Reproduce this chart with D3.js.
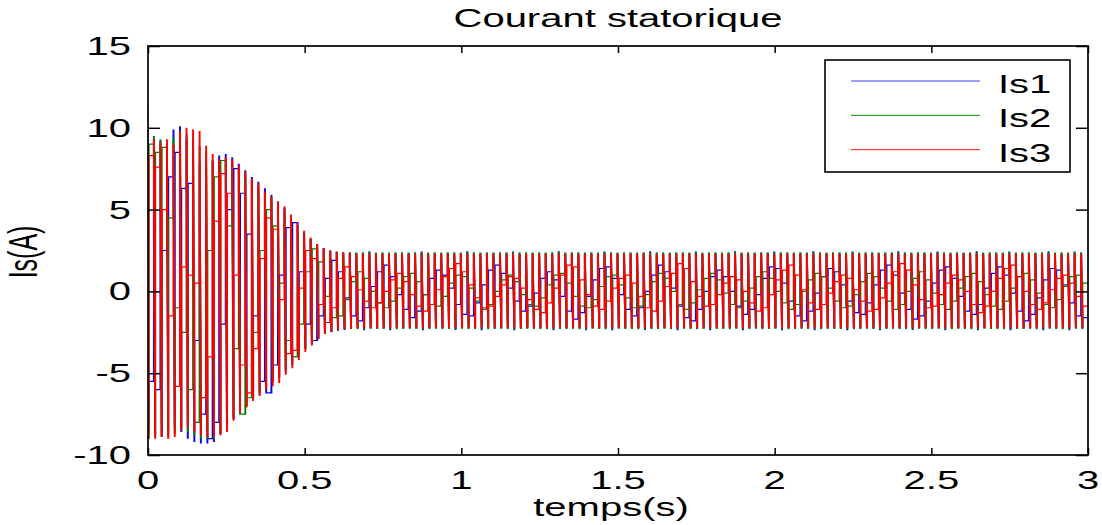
<!DOCTYPE html>
<html lang="fr">
<head>
<meta charset="utf-8">
<title>Courant statorique</title>
<style>
  body { margin: 0; background: #fff; }
  svg text { font-family: "Liberation Sans", Arial, sans-serif; fill: #000; }
  .trace { fill: none; stroke-width: 1.2px; stroke-linejoin: miter; }
  .tick line { stroke: #000; stroke-width: 1.5px; }
</style>
<script src="https://cdn.jsdelivr.net/npm/d3@7"></script>
</head>
<body>
<svg width="1102" height="525"></svg>
<script>
// time between two successive peaks of the same phase (s)
var cycle = 0.02084;

var xTicks = [0, 0.5, 1, 1.5, 2, 2.5, 3];
var xTickLabels = ["0", "0.5", "1", "1.5", "2", "2.5", "3"];
var yTicks = [-10, -5, 0, 5, 10, 15];
var yTickLabels = ["-10", "-5", "0", "5", "10", "15"];

// Is1 (blue): positive peak, negative peak and the level between peaks, one value per cycle
var is1Start = 0;
var is1Hi = [11.2, 9.3, 9.2, 9.0, 9.9, 10.1, 9.3, 8.5, 7.8, 7.6,
  8.0, 8.3, 8.4, 8.2, 7.8, 7.4, 7.0, 6.7, 6.3, 5.9,
  5.5, 5.1, 4.6, 4.1, 3.6, 3.2, 2.8, 2.6, 2.45, 2.42,
  2.4, 2.38, 2.34, 2.33, 2.45, 2.33, 2.32, 2.33, 2.34, 2.33,
  2.33, 2.32, 2.44, 2.33, 2.33, 2.32, 2.34, 2.33, 2.33, 2.45,
  2.33, 2.32, 2.33, 2.34, 2.33, 2.33, 2.44, 2.32, 2.33, 2.33,
  2.34, 2.33, 2.32, 2.45, 2.33, 2.33, 2.32, 2.34, 2.33, 2.33,
  2.44, 2.33, 2.32, 2.33, 2.34, 2.33, 2.33, 2.45, 2.32, 2.33,
  2.33, 2.34, 2.33, 2.33, 2.44, 2.32, 2.33, 2.33, 2.34, 2.33,
  2.45, 2.33, 2.32, 2.33, 2.34, 2.33, 2.44, 2.33, 2.32, 2.33,
  2.33, 2.34, 2.45, 2.33, 2.32, 2.33, 2.33, 2.34, 2.44, 2.33,
  2.32, 2.33, 2.33, 2.34, 2.33, 2.45, 2.32, 2.33, 2.33, 2.34,
  2.33, 2.44, 2.33, 2.32, 2.33, 2.34, 2.33, 2.45, 2.33, 2.32,
  2.33, 2.34, 2.44, 2.33, 2.32, 2.33, 2.33, 2.34, 2.45, 2.33,
  2.32, 2.33, 2.44, 2.33];
var is1Lo = [-8.5, -8.8, -8.9, -8.6, -8.3, -8.6, -9.0, -9.2, -9.3, -9.3,
  -9.2, -8.7, -8.2, -7.8, -7.3, -7.0, -6.6, -6.3, -5.9, -5.6,
  -5.3, -4.9, -4.5, -4.0, -3.5, -3.2, -2.9, -2.6, -2.5, -2.4,
  -2.36, -2.3, -2.27, -2.38, -2.26, -2.27, -2.26, -2.37, -2.26, -2.27,
  -2.26, -2.26, -2.38, -2.27, -2.26, -2.26, -2.27, -2.36, -2.26, -2.27,
  -2.26, -2.38, -2.26, -2.27, -2.26, -2.26, -2.37, -2.27, -2.26, -2.26,
  -2.27, -2.26, -2.38, -2.26, -2.27, -2.26, -2.26, -2.37, -2.26, -2.27,
  -2.26, -2.38, -2.26, -2.26, -2.27, -2.26, -2.36, -2.27, -2.26, -2.26,
  -2.27, -2.38, -2.26, -2.26, -2.27, -2.26, -2.37, -2.26, -2.27, -2.26,
  -2.26, -2.38, -2.27, -2.26, -2.26, -2.27, -2.26, -2.37, -2.26, -2.26,
  -2.27, -2.26, -2.38, -2.26, -2.27, -2.26, -2.26, -2.37, -2.27, -2.26,
  -2.26, -2.27, -2.38, -2.26, -2.26, -2.27, -2.26, -2.36, -2.26, -2.27,
  -2.26, -2.26, -2.38, -2.27, -2.26, -2.26, -2.27, -2.37, -2.26, -2.26,
  -2.27, -2.26, -2.38, -2.26, -2.27, -2.26, -2.26, -2.37, -2.26, -2.27,
  -2.26, -2.38, -2.26, -2.27];
var is1Mid = [-5.5, -6.0, 2.5, 7.0, 8.5, 6.3, 6.6, -3.0, -7.5, -9.0,
  -8.0, -2.0, 5.0, 7.5, 6.0, 3.5, -1.5, -5.5, -6.2, -4.5,
  1.0, 3.9, 4.2, 1.2, -2.0, -3.0, -1.5, 0.8, 1.9, 1.2,
  -0.4, -1.5, -1.8, -1.0, 0.3, 1.2, 1.6, 0.9, -0.2, -1.1,
  -1.6, -1.2, -0.2, 0.8, 1.3, 1.0, 0.2, -0.8, -1.4, -1.5,
  -0.7, 0.4, 1.3, 1.6, 1.1, 0.2, -0.6, -1.2, -0.9, -0.1,
  0.8, 1.2, 0.7, -0.3, -1.2, -1.7, -1.3, -0.3, 0.7, 1.4,
  1.5, 0.8, -0.2, -1.1, -1.5, -1.0, 0.0, 1.0, 1.6, 1.2,
  0.2, -0.9, -1.6, -1.8, -1.1, 0.0, 0.9, 1.3, 0.9, 0.0,
  -0.9, -1.4, -1.1, -0.2, 0.8, 1.5, 1.4, 0.5, -0.6, -1.5,
  -1.8, -1.2, -0.1, 0.9, 1.4, 1.2, 0.4, -0.6, -1.3, -1.4,
  -0.7, 0.4, 1.3, 1.6, 1.0, -0.1, -1.1, -1.7, -1.5, -0.6,
  0.5, 1.3, 1.5, 0.8, -0.3, -1.2, -1.4, -0.8, 0.2, 1.1,
  1.5, 1.0, -0.1, -1.2, -1.8, -1.4, -0.4, 0.7, 1.4, 1.3,
  0.4, -0.7, -1.5, -1.6];

// Is2 (green)
var is2Start = 0;
var is2Hi = [10.0, 9.5, 9.3, 9.1, 9.4, 9.7, 9.6, 9.3, 8.9, 8.5,
  8.0, 7.8, 8.0, 7.9, 7.5, 7.2, 6.8, 6.4, 6.0, 5.7,
  5.3, 4.9, 4.5, 4.0, 3.6, 3.2, 2.9, 2.65, 2.52, 2.44,
  2.4, 2.39, 2.38, 2.39, 2.4, 2.38, 2.39, 2.38, 2.4, 2.39,
  2.38, 2.39, 2.4, 2.38, 2.39, 2.38, 2.4, 2.39, 2.38, 2.39,
  2.4, 2.38, 2.39, 2.38, 2.4, 2.39, 2.38, 2.39, 2.4, 2.38,
  2.39, 2.38, 2.4, 2.39, 2.38, 2.39, 2.4, 2.38, 2.39, 2.38,
  2.4, 2.39, 2.38, 2.39, 2.4, 2.38, 2.39, 2.38, 2.4, 2.39,
  2.38, 2.39, 2.4, 2.38, 2.39, 2.38, 2.4, 2.39, 2.38, 2.39,
  2.4, 2.38, 2.39, 2.38, 2.4, 2.39, 2.38, 2.39, 2.4, 2.38,
  2.39, 2.38, 2.4, 2.39, 2.38, 2.39, 2.4, 2.38, 2.39, 2.38,
  2.4, 2.39, 2.38, 2.39, 2.4, 2.38, 2.39, 2.38, 2.4, 2.39,
  2.38, 2.39, 2.4, 2.38, 2.39, 2.38, 2.4, 2.39, 2.38, 2.39,
  2.4, 2.38, 2.39, 2.38, 2.4, 2.39, 2.38, 2.39, 2.4, 2.38,
  2.39, 2.38, 2.4, 2.39];
var is2Lo = [-9.0, -8.9, -8.8, -8.9, -8.7, -8.5, -8.6, -8.8, -9.0, -9.0,
  -9.0, -8.7, -8.2, -7.7, -7.3, -7.0, -6.6, -6.2, -5.9, -5.6,
  -5.2, -4.8, -4.3, -3.9, -3.5, -3.1, -2.8, -2.55, -2.4, -2.34,
  -2.3, -2.29, -2.3, -2.31, -2.29, -2.3, -2.3, -2.29, -2.31, -2.3,
  -2.29, -2.3, -2.31, -2.3, -2.29, -2.3, -2.3, -2.31, -2.29, -2.3,
  -2.3, -2.29, -2.31, -2.3, -2.29, -2.3, -2.31, -2.3, -2.29, -2.3,
  -2.3, -2.31, -2.29, -2.3, -2.3, -2.29, -2.31, -2.3, -2.29, -2.3,
  -2.31, -2.3, -2.29, -2.3, -2.3, -2.31, -2.29, -2.3, -2.3, -2.29,
  -2.31, -2.3, -2.29, -2.3, -2.31, -2.3, -2.29, -2.3, -2.3, -2.31,
  -2.29, -2.3, -2.3, -2.29, -2.31, -2.3, -2.29, -2.3, -2.31, -2.3,
  -2.29, -2.3, -2.3, -2.31, -2.29, -2.3, -2.3, -2.29, -2.31, -2.3,
  -2.29, -2.3, -2.31, -2.3, -2.29, -2.3, -2.3, -2.31, -2.29, -2.3,
  -2.3, -2.29, -2.31, -2.3, -2.29, -2.3, -2.31, -2.3, -2.29, -2.3,
  -2.3, -2.31, -2.29, -2.3, -2.3, -2.29, -2.31, -2.3, -2.29, -2.3,
  -2.31, -2.3, -2.29, -2.3];
var is2Mid = [9.0, 8.5, 8.8, 4.5, -1.0, -2.5, -6.0, -8.0, -6.5, 2.5,
  7.0, 8.0, 4.0, -3.5, -7.5, -6.5, -2.5, 2.5, 5.0, 4.0,
  0.5, -3.0, -4.0, -2.0, 1.2, 2.6, 1.8, -0.3, -1.6, -1.5,
  -0.5, 0.6, 1.2, 0.8, 0.0, -0.7, -1.0, -0.6, 0.2, 0.9,
  1.1, 0.6, -0.2, -0.8, -0.9, -0.3, 0.5, 1.0, 0.9, 0.2,
  -0.6, -1.1, -0.8, 0.0, 0.7, 1.0, 0.6, -0.2, -0.8, -0.9,
  -0.4, 0.4, 1.0, 1.1, 0.5, -0.3, -0.9, -1.0, -0.5, 0.3,
  0.9, 1.0, 0.4, -0.4, -1.0, -0.9, -0.2, 0.6, 1.1, 0.8,
  0.0, -0.8, -1.1, -0.7, 0.1, 0.8, 1.1, 0.7, -0.1, -0.8,
  -1.0, -0.6, 0.2, 0.9, 1.2, 0.8, 0.0, -0.7, -1.1, -0.8,
  0.0, 0.7, 1.1, 0.9, 0.2, -0.6, -1.0, -0.9, -0.2, 0.6,
  1.1, 0.9, 0.2, -0.6, -1.1, -0.8, 0.0, 0.8, 1.2, 0.7,
  -0.1, -0.8, -1.1, -0.6, 0.2, 0.9, 1.1, 0.6, -0.2, -0.9,
  -1.1, -0.6, 0.2, 0.9, 1.1, 0.7, -0.1, -0.8, -1.0, -0.5,
  0.3, 0.9, 1.0, 0.5];

// Is3 (red)
var is3Start = -4.3;
var is3Hi = [10.0, 9.3, 9.1, 9.3, 9.0, 9.8, 10.0, 9.9, 9.8, 8.9,
  8.4, 8.1, 8.2, 8.1, 7.7, 7.3, 6.9, 6.6, 6.1, 5.8,
  5.5, 5.2, 4.7, 4.2, 3.7, 3.3, 2.9, 2.65, 2.5, 2.4,
  2.35, 2.33, 2.31, 2.3, 2.3, 2.31, 2.3, 2.29, 2.3, 2.3,
  2.3, 2.3, 2.31, 2.3, 2.3, 2.29, 2.3, 2.3, 2.31, 2.3,
  2.3, 2.29, 2.3, 2.31, 2.3, 2.3, 2.3, 2.29, 2.3, 2.31,
  2.3, 2.3, 2.29, 2.3, 2.3, 2.31, 2.3, 2.3, 2.29, 2.3,
  2.31, 2.3, 2.3, 2.3, 2.29, 2.3, 2.31, 2.3, 2.3, 2.29,
  2.3, 2.3, 2.31, 2.3, 2.29, 2.3, 2.3, 2.31, 2.3, 2.3,
  2.29, 2.3, 2.3, 2.31, 2.3, 2.3, 2.29, 2.3, 2.31, 2.3,
  2.3, 2.29, 2.3, 2.3, 2.31, 2.3, 2.3, 2.29, 2.3, 2.31,
  2.3, 2.3, 2.29, 2.3, 2.3, 2.31, 2.3, 2.29, 2.3, 2.3,
  2.31, 2.3, 2.3, 2.29, 2.3, 2.3, 2.31, 2.3, 2.3, 2.29,
  2.3, 2.31, 2.3, 2.3, 2.29, 2.3, 2.3, 2.31, 2.3, 2.3,
  2.29, 2.3, 2.31, 2.3];
var is3Lo = [-9.0, -9.0, -8.9, -9.0, -8.9, -8.5, -8.3, -8.6, -8.8, -8.9,
  -8.9, -8.8, -8.6, -7.9, -7.4, -7.1, -6.7, -6.4, -6.0, -5.8,
  -5.6, -5.1, -4.7, -4.2, -3.7, -3.3, -2.9, -2.6, -2.45, -2.35,
  -2.3, -2.27, -2.25, -2.23, -2.22, -2.23, -2.22, -2.22, -2.23, -2.22,
  -2.22, -2.23, -2.22, -2.22, -2.22, -2.23, -2.22, -2.22, -2.23, -2.22,
  -2.23, -2.22, -2.22, -2.22, -2.23, -2.22, -2.22, -2.23, -2.22, -2.22,
  -2.22, -2.23, -2.22, -2.22, -2.23, -2.22, -2.22, -2.22, -2.23, -2.22,
  -2.22, -2.23, -2.22, -2.22, -2.22, -2.23, -2.22, -2.22, -2.23, -2.22,
  -2.23, -2.22, -2.22, -2.22, -2.23, -2.22, -2.22, -2.23, -2.22, -2.22,
  -2.22, -2.23, -2.22, -2.22, -2.23, -2.22, -2.22, -2.22, -2.23, -2.22,
  -2.22, -2.23, -2.22, -2.22, -2.22, -2.23, -2.22, -2.22, -2.23, -2.22,
  -2.23, -2.22, -2.22, -2.22, -2.23, -2.22, -2.22, -2.23, -2.22, -2.22,
  -2.22, -2.23, -2.22, -2.22, -2.23, -2.22, -2.22, -2.22, -2.23, -2.22,
  -2.22, -2.23, -2.22, -2.22, -2.22, -2.23, -2.22, -2.22, -2.23, -2.22,
  -2.23, -2.22, -2.22, -2.22];
var is3Mid = [8.3, 7.6, 5.0, -1.5, -5.8, 1.5, 1.0, 0.5, -6.5, -4.0,
  4.3, 7.2, 6.0, 1.0, -4.5, -6.2, -3.5, 2.0, 4.5, 3.8,
  -0.5, -3.8, -3.6, 0.2, 2.5, 2.0, -0.8, -1.9, -1.0, 0.8,
  1.5, 0.9, 0.1, -0.6, -1.0, -0.7, 0.0, 0.7, 1.1, 0.6,
  -0.2, -0.9, -1.2, -0.8, 0.1, 0.9, 1.4, 1.7, 1.2, 0.4,
  -0.4, -1.0, -0.9, -0.3, 0.4, 0.9, 0.8, 0.2, -0.5, -1.1,
  -1.3, -0.7, 0.2, 1.0, 1.6, 1.5, 0.7, -0.2, -0.9, -1.1,
  -0.6, 0.2, 0.8, 1.0, 0.5, -0.3, -1.0, -1.2, -0.6, 0.3,
  1.1, 1.7, 1.4, 0.6, -0.3, -0.9, -0.8, -0.2, 0.5, 0.9,
  0.7, 0.0, -0.7, -1.2, -1.0, -0.2, 0.7, 1.3, 1.6, 1.0,
  0.1, -0.7, -1.1, -0.8, -0.1, 0.6, 1.0, 0.8, 0.1, -0.6,
  -1.2, -1.1, -0.4, 0.5, 1.2, 1.7, 1.3, 0.4, -0.5, -1.0,
  -0.9, -0.2, 0.5, 1.0, 0.7, 0.0, -0.8, -1.3, -0.9, 0.0,
  0.8, 1.4, 1.6, 0.9, 0.0, -0.8, -1.1, -0.7, 0.1, 0.8,
  1.0, 0.5, -0.3, -0.9];

var series = [
  {name: "Is1", color: "#0000ff", start: is1Start, hi: is1Hi, lo: is1Lo, mid: is1Mid},
  {name: "Is2", color: "#008000", start: is2Start, hi: is2Hi, lo: is2Lo, mid: is2Mid},
  {name: "Is3", color: "#ff0000", start: is3Start, hi: is3Hi, lo: is3Lo, mid: is3Mid}
];

var svg = d3.select("svg");
var stretch = 1.6;   // the figure is wider than tall: text and strokes are stretched sideways
var fontSize = 25;
var x = d3.scaleLinear().domain([0, 3]).range([148, 1088]);
var y = d3.scaleLinear().domain([-10, 15]).range([455, 46]);
// same time axis in unstretched units, drawn inside a scale(stretch,1) group
var xs = d3.scaleLinear().domain([0, 3]).range([148 / stretch, 1088 / stretch]);
var halfBar = 0.4;   // unstretched px between rising and falling edge of one peak

svg.append("clipPath").attr("id", "plot")
  .append("rect")
    .attr("x", x(0)).attr("y", y(15))
    .attr("width", x(3) - x(0)).attr("height", y(-10) - y(15));

function tracePoints(s) {
  var n = Math.min(s.hi.length, s.lo.length, s.mid.length);
  var pts = [[xs(0) - halfBar, y(s.start)]];
  for (var k = 0; k < n; k++) {
    var xc = xs(k * cycle);
    pts.push([xc - halfBar, y(k === 0 ? s.start : s.mid[k - 1])]);
    pts.push([xc - halfBar, y(s.hi[k])]);
    pts.push([xc + halfBar, y(s.lo[k])]);
    pts.push([xc + halfBar, y(s.mid[k])]);
  }
  pts.push([xs(3), y(s.mid[n - 1])]);
  return pts;
}

var line = d3.line();
svg.append("g")
    .attr("clip-path", "url(#plot)")
  .append("g")
    .attr("transform", "scale(" + stretch + ",1)")
  .selectAll("path")
  .data(series)
  .enter().append("path")
    .attr("class", "trace")
    .attr("stroke", function(d) { return d.color; })
    .attr("d", function(d) { return line(tracePoints(d)); });

// ticks pointing inwards on all four sides
svg.append("g").attr("transform", "translate(0," + y(-10) + ")")
  .call(d3.axisBottom(x).tickValues(xTicks).tickSize(-7).tickFormat(""));
svg.append("g").attr("transform", "translate(0," + y(15) + ")")
  .call(d3.axisTop(x).tickValues(xTicks).tickSize(-7).tickFormat(""));
svg.append("g").attr("transform", "translate(" + x(0) + ",0)")
  .call(d3.axisLeft(y).tickValues(yTicks).tickSize(-12).tickFormat(""));
svg.append("g").attr("transform", "translate(" + x(3) + ",0)")
  .call(d3.axisRight(y).tickValues(yTicks).tickSize(-12).tickFormat(""));
svg.selectAll(".domain").remove();

svg.append("rect")
    .attr("x", x(0)).attr("y", y(15))
    .attr("width", x(3) - x(0)).attr("height", y(-10) - y(15))
    .attr("fill", "none").attr("stroke", "#000").attr("stroke-width", 1.7);

// labels
svg.selectAll(".xlab")
  .data(xTicks)
  .enter().append("text")
    .attr("class", "xlab")
    .attr("text-anchor", "middle")
    .attr("font-size", fontSize)
    .attr("transform", function(d) { return "translate(" + x(d) + ",489) scale(" + stretch + ",1)"; })
    .text(function(d, i) { return xTickLabels[i]; });

svg.selectAll(".ylab")
  .data(yTicks)
  .enter().append("text")
    .attr("class", "ylab")
    .attr("text-anchor", "end")
    .attr("font-size", fontSize)
    .attr("transform", function(d) { return "translate(131," + (y(d) + 9) + ") scale(" + stretch + ",1)"; })
    .text(function(d, i) { return yTickLabels[i]; });

svg.append("text")
    .attr("text-anchor", "middle")
    .attr("font-size", fontSize)
    .attr("transform", "translate(618,27) scale(" + stretch + ",1)")
    .text("Courant statorique");

svg.append("text")
    .attr("text-anchor", "middle")
    .attr("font-size", fontSize)
    .attr("transform", "translate(611,516) scale(" + stretch + ",1)")
    .text("temps(s)");

svg.append("text")
    .attr("text-anchor", "middle")
    .attr("font-size", fontSize)
    .attr("transform", "translate(37,252) scale(" + stretch + ",1) rotate(-90)")
    .text("Is(A)");

// legend
var legend = svg.append("g");
legend.append("rect")
    .attr("x", 825).attr("y", 60).attr("width", 245).attr("height", 112)
    .attr("fill", "#fff").attr("stroke", "#000").attr("stroke-width", 1.6);
var entry = legend.selectAll(".entry")
  .data(series)
  .enter().append("g")
    .attr("class", "entry")
    .attr("transform", function(d, i) { return "translate(0," + (81 + i * 34.3) + ")"; });
entry.append("line")
    .attr("x1", 851).attr("x2", 980)
    .attr("stroke", function(d) { return d.color; })
    .attr("stroke-opacity", 0.75)
    .attr("stroke-width", 1.2);
entry.append("text")
    .attr("font-size", fontSize)
    .attr("transform", "translate(998,12) scale(" + stretch + ",1)")
    .text(function(d) { return d.name; });
</script>
</body>
</html>
